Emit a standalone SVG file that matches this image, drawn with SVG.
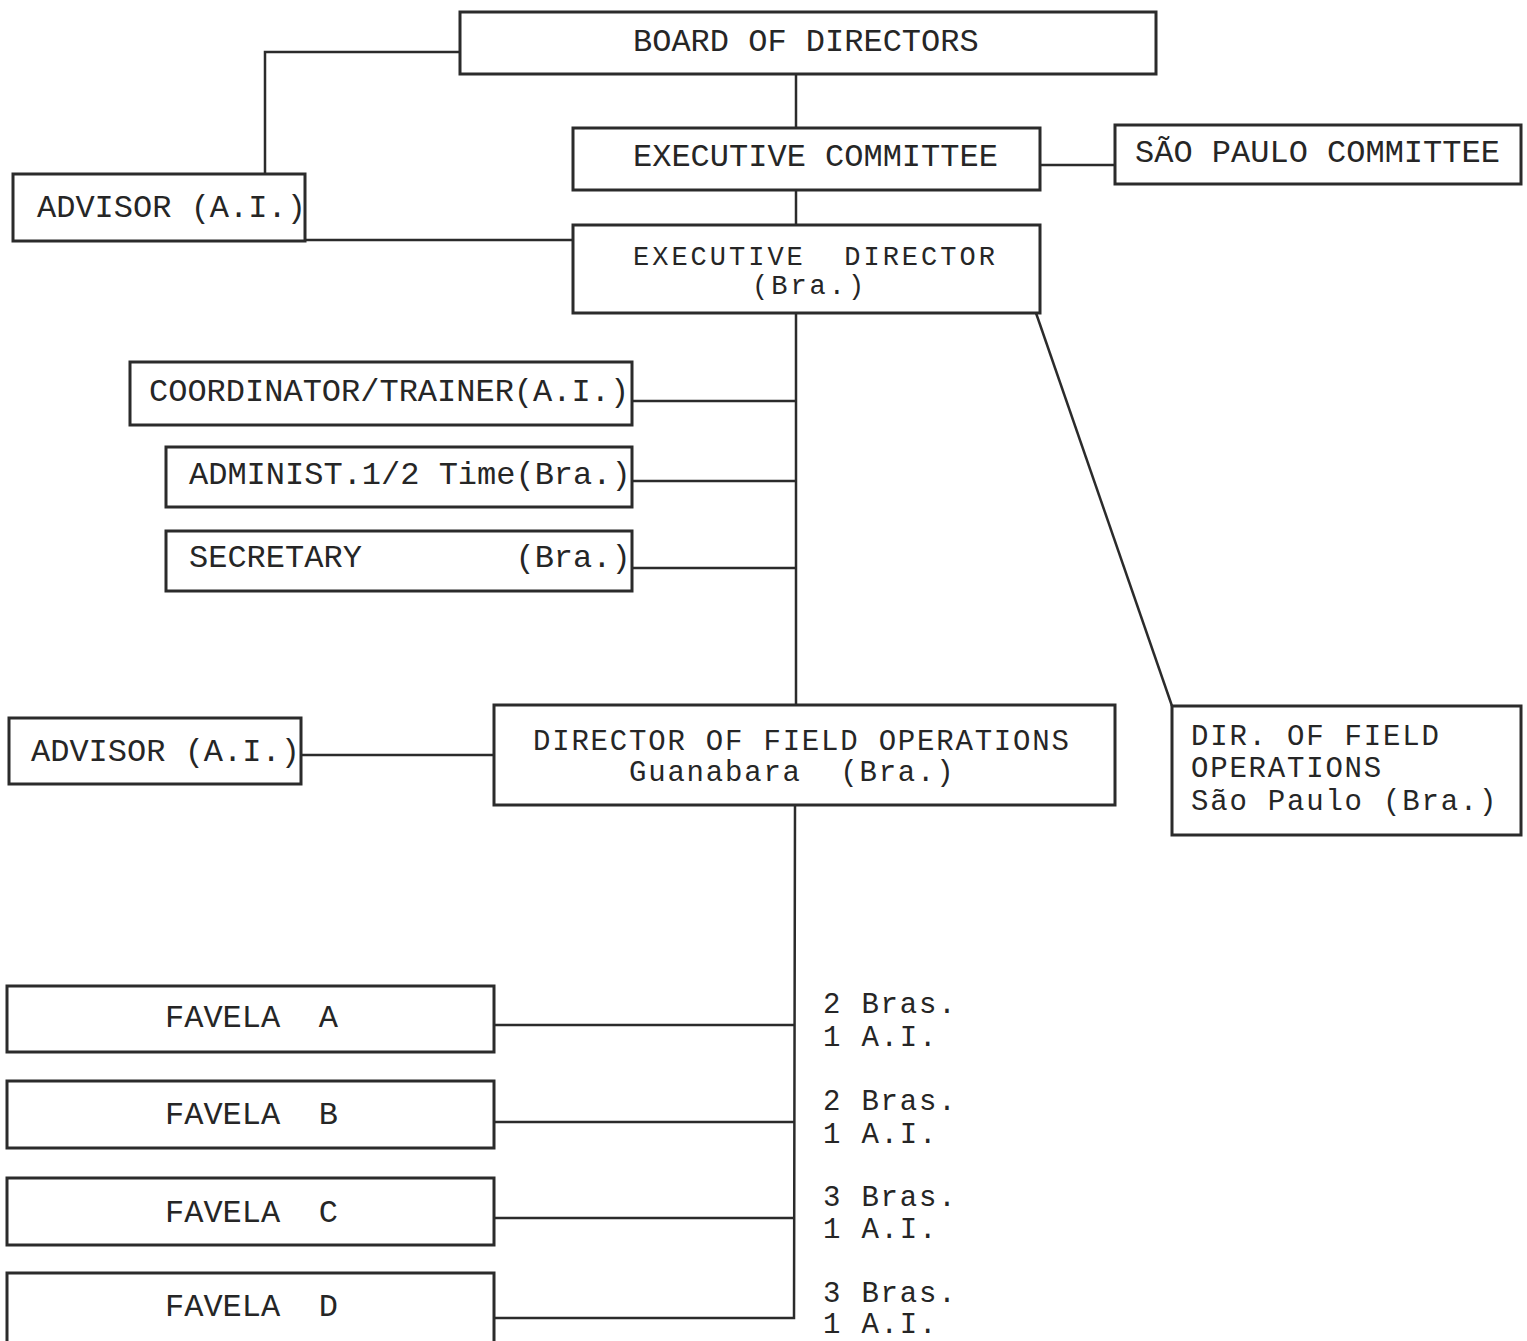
<svg xmlns="http://www.w3.org/2000/svg" width="1527" height="1341" viewBox="0 0 1527 1341">
<style>
.box{fill:#fff;stroke:#2b2b2b;stroke-width:3}
.ln{fill:none;stroke:#2b2b2b;stroke-width:2.5}
text{font-family:"Liberation Mono","Courier New",monospace;font-size:32px;fill:#262626;white-space:pre}
text.m{font-size:29px;letter-spacing:1.8px}
text.s{font-size:27px;letter-spacing:3px}
</style>
<rect width="1527" height="1341" fill="#fff"/>
<g id="connectors">
<polyline class="ln" points="460,52 265,52 265,174"/>
<line class="ln" x1="305" y1="240" x2="573" y2="240"/>
<line class="ln" x1="796" y1="74" x2="796" y2="128"/>
<line class="ln" x1="796" y1="190" x2="796" y2="225"/>
<line class="ln" x1="1040" y1="165" x2="1115" y2="165"/>
<line class="ln" x1="796" y1="313" x2="796" y2="705"/>
<line class="ln" x1="1036" y1="313" x2="1172" y2="706"/>
<line class="ln" x1="632" y1="401" x2="796" y2="401"/>
<line class="ln" x1="632" y1="481" x2="796" y2="481"/>
<line class="ln" x1="632" y1="568" x2="796" y2="568"/>
<line class="ln" x1="301" y1="755" x2="494" y2="755"/>
<polyline class="ln" points="795,805 794,1318 494,1318"/>
<line class="ln" x1="494" y1="1025" x2="794" y2="1025"/>
<line class="ln" x1="494" y1="1122" x2="794" y2="1122"/>
<line class="ln" x1="494" y1="1218" x2="794" y2="1218"/>
</g>
<g id="board"><rect class="box" x="460" y="12" width="696" height="62"/><text x="633" y="51">BOARD OF DIRECTORS</text></g>
<g id="advisor1"><rect class="box" x="13" y="174" width="292" height="67"/><text x="37" y="217">ADVISOR (A.I.)</text></g>
<g id="execcommittee"><rect class="box" x="573" y="128" width="467" height="62"/><text x="633" y="166">EXECUTIVE COMMITTEE</text></g>
<g id="spcommittee"><rect class="box" x="1115" y="125" width="406" height="59"/><text x="1135" y="162">SÃO PAULO COMMITTEE</text></g>
<g id="execdirector"><rect class="box" x="573" y="225" width="467" height="88"/><text class="s" x="633" y="265">EXECUTIVE  DIRECTOR</text><text class="s" x="752" y="294">(Bra.)</text></g>
<g id="coordinator"><rect class="box" x="130" y="362" width="502" height="63"/><text x="149" y="401">COORDINATOR/TRAINER(A.I.)</text></g>
<g id="administ"><rect class="box" x="166" y="447" width="466" height="60"/><text x="189" y="484">ADMINIST.1/2 Time(Bra.)</text></g>
<g id="secretary"><rect class="box" x="166" y="531" width="466" height="60"/><text x="189" y="567">SECRETARY        (Bra.)</text></g>
<g id="advisor2"><rect class="box" x="9" y="718" width="292" height="66"/><text x="31" y="761">ADVISOR (A.I.)</text></g>
<g id="dirfieldgb"><rect class="box" x="494" y="705" width="621" height="100"/><text class="m" x="533" y="750">DIRECTOR OF FIELD OPERATIONS</text><text class="m" x="629" y="781">Guanabara  (Bra.)</text></g>
<g id="dirfieldsp"><rect class="box" x="1172" y="706" width="349" height="129"/><text class="m" x="1191" y="745">DIR. OF FIELD</text><text class="m" x="1191" y="777">OPERATIONS</text><text class="m" x="1191" y="810">São Paulo (Bra.)</text></g>
<g id="favelaA"><rect class="box" x="7" y="986" width="487" height="66"/><text x="165" y="1027">FAVELA  A</text></g>
<g id="favelaB"><rect class="box" x="7" y="1081" width="487" height="67"/><text x="165" y="1124">FAVELA  B</text></g>
<g id="favelaC"><rect class="box" x="7" y="1178" width="487" height="67"/><text x="165" y="1222">FAVELA  C</text></g>
<g id="favelaD"><rect class="box" x="7" y="1273" width="487" height="70"/><text x="165" y="1316">FAVELA  D</text></g>
<g id="labels">
<text class="m" x="823" y="1013">2 Bras.</text><text class="m" x="823" y="1046">1 A.I.</text>
<text class="m" x="823" y="1110">2 Bras.</text><text class="m" x="823" y="1143">1 A.I.</text>
<text class="m" x="823" y="1206">3 Bras.</text><text class="m" x="823" y="1238">1 A.I.</text>
<text class="m" x="823" y="1302">3 Bras.</text><text class="m" x="823" y="1333">1 A.I.</text>
</g>
</svg>
